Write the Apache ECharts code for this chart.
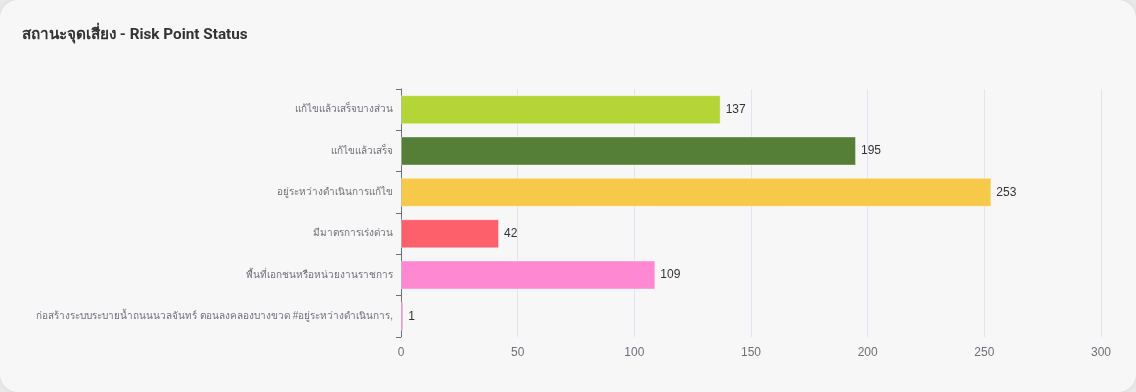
<!DOCTYPE html>
<html>
<head>
<meta charset="utf-8">
<script src="https://cdn.jsdelivr.net/npm/echarts@6/dist/echarts.min.js"></script>
<style>
  html, body { margin: 0; padding: 0; width: 1136px; height: 392px; background: #e9e9e9; overflow: hidden; }
  #card { position: absolute; left: 0; top: 0; width: 1136px; height: 392px; background: #f7f7f7; border-radius: 18px; box-shadow: 0 0 4px rgba(0,0,0,0.08); }
  #chart { position: absolute; left: 0; top: 0; width: 1136px; height: 392px; }
</style>
</head>
<body>
<div id="card"><div id="chart"></div></div>
<script>
const title = 'สถานะจุดเสี่ยง - Risk Point Status';
const categories = [
  'แก้ไขแล้วเสร็จบางส่วน',
  'แก้ไขแล้วเสร็จ',
  'อยู่ระหว่างดำเนินการแก้ไข',
  'มีมาตรการเร่งด่วน',
  'พื้นที่เอกชนหรือหน่วยงานราชการ',
  'ก่อสร้างระบบระบายน้ำถนนนวลจันทร์ ตอนลงคลองบางขวด #อยู่ระหว่างดำเนินการ,'
];
const values = [137, 195, 253, 42, 109, 1];
const colors = ['#b3d535', '#557e37', '#f7c94a', '#fd5f6b', '#ff88d2', '#ff88d2'];
const xTicks = [0, 50, 100, 150, 200, 250, 300];

const chart = echarts.init(document.getElementById('chart'));
chart.setOption({
  animation: false,
  title: {
    text: title, left: 17, top: 23,
    textStyle: { fontSize: 15.3, fontWeight: 'bold', color: '#333', fontFamily: 'Roboto, "Noto Sans", sans-serif' }
  },
  grid: { left: 401, right: 35, top: 89, bottom: 55, outerBoundsMode: 'none', containLabel: false },
  xAxis: {
    type: 'value', min: xTicks[0], max: xTicks[xTicks.length - 1], interval: 50,
    axisLine: { show: false }, axisTick: { show: false },
    axisLabel: { color: '#6e7079', fontSize: 12, margin: 10 },
    splitLine: { lineStyle: { color: '#e0e6f1' } }
  },
  yAxis: {
    type: 'category', data: categories, inverse: true,
    axisLine: { show: true, lineStyle: { color: '#6e7079' } },
    axisTick: { show: true, lineStyle: { color: '#6e7079' } },
    axisLabel: { color: '#6e7079', fontSize: 10, margin: 8 }
  },
  series: [{
    type: 'bar',
    data: values.map((v, i) => ({ value: v, itemStyle: { color: colors[i] } })),
    barWidth: '70%',
    itemStyle: { borderColor: 'rgba(255,255,255,0.35)', borderWidth: 1 },
    label: { show: true, position: 'right', color: '#333', fontSize: 12, distance: 5 }
  }]
});
</script>
</body>
</html>
